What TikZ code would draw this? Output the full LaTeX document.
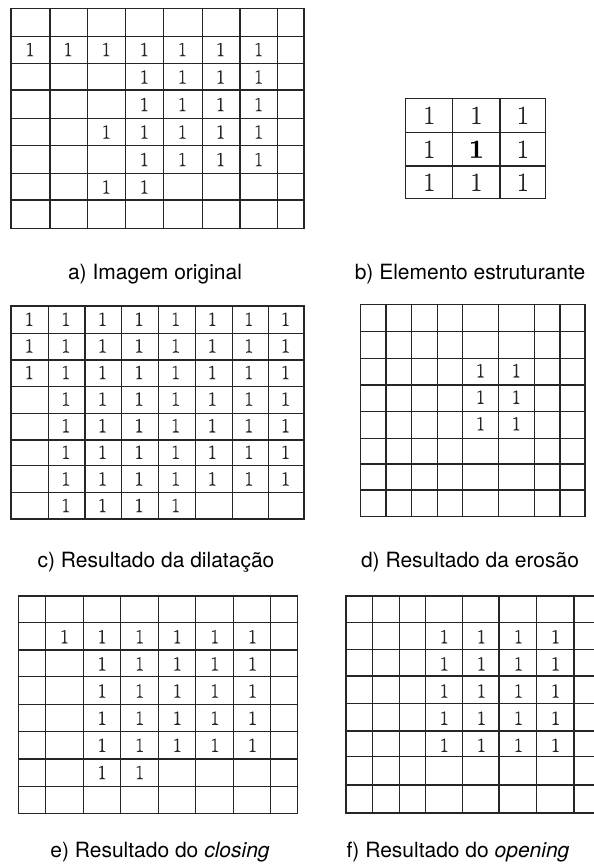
\documentclass[tikz,border=0pt]{standalone}
\usepackage{fontspec}
\newfontfamily\capfont{TeX Gyre Heros}
\newfontfamily\cellfont{Latin Modern Roman}[FakeBold=0.6]
\usetikzlibrary{positioning}

% one grid: x lines, y lines, left, right, top, bottom
\newcommand{\cellgrid}[6]{%
  \foreach \gx in {#1} \draw[gridline] (\gx,#5) -- (\gx,#6);
  \foreach \gy in {#2} \draw[gridline] (#3,\gy) -- (#4,\gy);
}

\tikzset{
  gridline/.style={line width=1.1pt, draw=black!85, line cap=rect},
  one/.style={font=\cellfont\fontsize{20}{20}\selectfont, text=black!85, inner sep=0pt},
  bigone/.style={font=\cellfont\fontsize{26}{26}\selectfont, text=black!85, inner sep=0pt},
  caption/.style={font=\capfont\fontsize{21}{21}\selectfont, anchor=base, inner sep=0pt}
}

\begin{document}
\begin{tikzpicture}[x=1pt, y=-1pt]
\useasboundingbox (0,0) rectangle (594,868);

% a) original image
\cellgrid{11,50,87.7,125.7,163.3,202.3,240,277.7,304}{8.3,36.7,63.3,90,118.3,145.7,173.3,200,228.3}{11}{304}{8.3}{228.3}
\foreach \c in {1,...,7} \node[one] (a2\c) at ({11+38.1*(\c-0.5)},{8.3+27.5*1.5}) {1};
\foreach \r in {3,4,5,6} \foreach \c in {4,...,7}
  \node[one] (a\r\c) at ({11+38.1*(\c-0.5)},{8.3+27.5*(\r-0.5)}) {1};
\node[one] (a53) at ({11+38.1*2.5},{8.3+27.5*4.5}) {1};
\node[one] (a73) at ({11+38.1*2.5},{8.3+27.5*6.5}) {1};
\node[one] (a74) at ({11+38.1*3.5},{8.3+27.5*6.5}) {1};

% b) structuring element
\cellgrid{405.7,452.7,500,545.7}{98.3,132.3,166,198.3}{405.7}{545.7}{98.3}{198.3}
\foreach \c/\x in {1/429.2,3/522.8} \foreach \r/\y in {1/115.3,2/149.2,3/182.2}
  \node[bigone] (b\r\c) at (\x,\y) {1};
\node[bigone] (b12) at (476.3,115.3) {1};
\node[bigone] (b32) at (476.3,182.2) {1};
\node[bigone, text=black] (bmid) at (476.3,149.2) {\bfseries 1};

% c) dilation
\cellgrid{11,48.3,85,121.7,158.3,195.7,232.3,268.3,304}{306,333.3,360,386.7,413.3,440,465.7,492.3,519}{11}{304}{306}{519}
\foreach \r in {1,2,3} \foreach \c in {1,...,8}
  \node[one] (c\r\c) at ({11+36.6*(\c-0.5)},{306+26.6*(\r-0.5)}) {1};
\foreach \r in {4,...,7} \foreach \c in {2,...,8}
  \node[one] (c\r\c) at ({11+36.6*(\c-0.5)},{306+26.6*(\r-0.5)}) {1};
\foreach \c in {2,...,5}
  \node[one] (c8\c) at ({11+36.6*(\c-0.5)},{306+26.6*7.5}) {1};

% d) erosion
\cellgrid{360.7,386,411.7,437.3,462.7,498.3,534.3,560,585}{304.3,331.7,358.3,385,411.7,438.3,464,490,516.7}{360.7}{585}{304.3}{516.7}
\foreach \r in {3,4,5} \foreach \c/\x in {5/480.5,6/516.3}
  \node[one] (d\r\c) at (\x,{304.3+26.55*(\r-0.5)}) {1};

% e) closing
\cellgrid{18.3,45.7,83.3,120.7,158.3,195.7,233.3,270.7,297.7}{596,622.7,650,676.7,704.3,731.7,759,786.7,813.3}{18.3}{297.7}{596}{813.3}
\foreach \c in {2,...,7} \node[one] (e2\c) at ({45.7+37.6*(\c-1.5)},{596+27.15*1.5}) {1};
\foreach \r in {3,...,6} \foreach \c in {3,...,7}
  \node[one] (e\r\c) at ({45.7+37.6*(\c-1.5)},{596+27.15*(\r-0.5)}) {1};
\node[one] (e73) at ({45.7+37.6*1.5},{596+27.15*6.5}) {1};
\node[one] (e74) at ({45.7+37.6*2.5},{596+27.15*6.5}) {1};

% f) opening
\cellgrid{346,372.7,399.3,425.7,462.3,499,536.7,574}{596,622.3,649.3,676,703.3,731,756.7,785,813}{346}{594}{596}{813}
\foreach \r in {2,...,6} \foreach \c in {4,...,7}
  \node[one] (f\r\c) at ({425.7+37.1*(\c-3.5)},{596+27.15*(\r-0.5)}) {1};

% captions
\node[caption] (capa) at (155,279) {a) Imagem original};
\node[caption] (capb) at (470,279) {b) Elemento estruturante};
\node[caption] (capc) at (156,567) {c) Resultado da dilatação};
\node[caption] (capd) at (470,567) {d) Resultado da erosão};
\node[caption] (cape) at (160,857) {e) Resultado do \textit{closing}};
\node[caption] (capf) at (458,857) {f) Resultado do \textit{opening}};
\end{tikzpicture}
\end{document}
